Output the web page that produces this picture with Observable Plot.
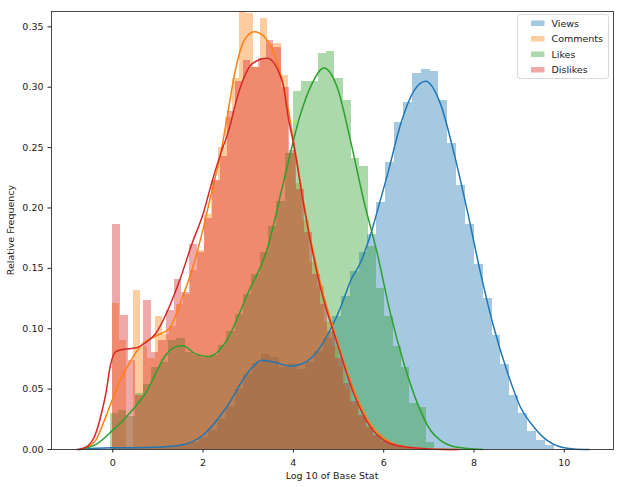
<!DOCTYPE html>
<html><head><meta charset="utf-8">
<script src="https://cdn.jsdelivr.net/npm/d3@7"></script>
<script src="https://cdn.jsdelivr.net/npm/@observablehq/plot@0.6"></script>
<style>
body{margin:0;background:#fff;}
#chart{width:624px;height:487px;}
</style></head><body><div id="chart"></div>
<script>
// ---- data ----
const seriesNames = ["Views", "Comments", "Likes", "Dislikes"];
const seriesColors = ["#1f77b4", "#ff7f0e", "#2ca02c", "#d62728"];

const xTicks = [0, 2, 4, 6, 8, 10];
const yTicks = [0, 0.05, 0.10, 0.15, 0.20, 0.25, 0.30, 0.35];

// histogram bins: first edge, bin width, bar heights (relative frequency)
const viewsBinStart = -0.04, viewsBinWidth = 0.1963;
const viewsHeights = [0.002, 0.001, 0.001, 0.001, 0.002, 0.002, 0.002, 0.003, 0.004, 0.006,
  0.010, 0.016, 0.025, 0.036, 0.050, 0.062, 0.071, 0.079, 0.076, 0.068,
  0.071, 0.066, 0.072, 0.081, 0.092, 0.110, 0.127, 0.147, 0.163, 0.178,
  0.2047, 0.238, 0.271, 0.2875, 0.3115, 0.3143, 0.313, 0.289, 0.253, 0.2185,
  0.186, 0.153, 0.125, 0.094, 0.070, 0.045, 0.030, 0.015, 0.0075, 0.003];

const commentsBinStart = 0, commentsBinWidth = 0.156;
const commentsHeights = [0.121, 0.090, 0, 0.132, 0.085, 0.075, 0.110, 0.095, 0.102, 0.120,
  0.128, 0.148, 0.165, 0.195, 0.222, 0.25, 0.275, 0.307, 0.3618, 0.361,
  0.316, 0.357, 0.335, 0.336, 0.31, 0.245, 0.22, 0.19, 0.155, 0.135,
  0.105, 0.085, 0.068, 0.05, 0.037, 0.027, 0.019, 0.012, 0.008, 0.005,
  0.003, 0.002, 0.001, 0.001, 0.0005];

const likesBinStart = -0.06, likesBinWidth = 0.1845;
const likesHeights = [0.030, 0.032, 0.027, 0.046, 0.054, 0.068, 0.072, 0.090, 0.092, 0.080,
  0.078, 0.076, 0.078, 0.086, 0.098, 0.112, 0.128, 0.145, 0.163, 0.185,
  0.205, 0.245, 0.2966, 0.305, 0.305, 0.328, 0.3297, 0.307, 0.289, 0.241,
  0.234, 0.168, 0.133, 0.11, 0.085, 0.068, 0.0378, 0.0345, 0.006];

const dislikesBinStart = 0, dislikesBinWidth = 0.17;
const dislikesHeights = [0.186, 0.111, 0.074, 0.045, 0.123, 0.08, 0.09, 0.115, 0.141, 0.13,
  0.17, 0.163, 0.191, 0.2227, 0.2425, 0.28, 0.305, 0.322, 0.316, 0.324,
  0.339, 0.333, 0.30, 0.2475, 0.215, 0.18, 0.145, 0.12, 0.098, 0.075,
  0.055, 0.04, 0.028, 0.018, 0.012, 0.007, 0.004, 0.003, 0.002, 0.001, 0.0005];

// density curves
const viewsKdeX = [-0.8, -0.4, 0, 0.5, 1.0, 1.5, 2.0, 2.5, 3.0, 3.3, 3.6, 3.94, 4.2, 4.4, 4.6, 4.83, 5.05, 5.27, 5.49, 5.71, 5.9, 6.08, 6.38, 6.67, 6.93, 7.26, 7.56, 7.85, 8.15, 8.44, 8.74, 9.03, 9.33, 9.62, 9.92, 10.2, 10.55];
const viewsKdeY = [0, 0.001, 0.0015, 0.0015, 0.002, 0.0035, 0.012, 0.034, 0.064, 0.074, 0.072, 0.069, 0.071, 0.076, 0.085, 0.1, 0.118, 0.14, 0.155, 0.178, 0.203, 0.227, 0.27, 0.297, 0.305, 0.286, 0.245, 0.198, 0.1455, 0.101, 0.064, 0.035, 0.0185, 0.0075, 0.002, 0.0005, 0];

const commentsKdeX = [-0.75, -0.55, -0.38, -0.155, 0.04, 0.2, 0.36, 0.66, 0.95, 1.25, 1.5, 1.75, 1.95, 2.2, 2.39, 2.5, 2.72, 2.9, 3.13, 3.35, 3.6, 3.83, 4.05, 4.3, 4.6, 4.97, 5.34, 5.71, 6.08, 6.5, 7.0, 7.7];
const commentsKdeY = [0, 0.002, 0.0075, 0.027, 0.046, 0.06, 0.071, 0.0875, 0.094, 0.1, 0.122, 0.148, 0.175, 0.215, 0.245, 0.268, 0.315, 0.338, 0.346, 0.342, 0.325, 0.293, 0.245, 0.19, 0.138, 0.09, 0.049, 0.021, 0.0075, 0.002, 0.0005, 0];

const likesKdeX = [-0.7, -0.38, 0, 0.25, 0.51, 0.75, 0.95, 1.15, 1.39, 1.55, 1.84, 2.13, 2.5, 3.0, 3.42, 3.79, 4.16, 4.4, 4.68, 4.97, 5.27, 5.56, 5.86, 6.15, 6.45, 6.75, 7.04, 7.26, 7.6, 8.2];
const likesKdeY = [0, 0.004, 0.016, 0.025, 0.036, 0.048, 0.063, 0.077, 0.085, 0.086, 0.079, 0.077, 0.089, 0.13, 0.166, 0.2227, 0.278, 0.302, 0.316, 0.30, 0.255, 0.206, 0.162, 0.1125, 0.071, 0.038, 0.0157, 0.0075, 0.002, 0];

const dislikesKdeX = [-0.75, -0.55, -0.38, -0.25, -0.155, -0.05, 0.066, 0.25, 0.5, 0.75, 0.95, 1.25, 1.5, 1.75, 2.0, 2.2, 2.39, 2.55, 2.8, 3.09, 3.42, 3.76, 3.9, 4.01, 4.24, 4.6, 4.97, 5.34, 5.71, 6.08, 6.5, 7.0, 7.63];
const dislikesKdeY = [0, 0.003, 0.013, 0.03, 0.046, 0.07, 0.081, 0.083, 0.084, 0.089, 0.096, 0.118, 0.142, 0.17, 0.195, 0.222, 0.245, 0.262, 0.297, 0.3195, 0.324, 0.304, 0.272, 0.252, 0.2, 0.134, 0.088, 0.046, 0.0185, 0.006, 0.002, 0.0005, 0];

// ---- build tables ----
function binsOf(series, start, width, heights) {
  return heights.map((h, i) => ({series, x1: start + i * width, x2: start + (i + 1) * width, y: h}));
}
function curveOf(series, xs, ys) {
  return xs.map((x, i) => ({series, x, y: ys[i]}));
}
const bars = {
  Views: binsOf("Views", viewsBinStart, viewsBinWidth, viewsHeights),
  Comments: binsOf("Comments", commentsBinStart, commentsBinWidth, commentsHeights),
  Likes: binsOf("Likes", likesBinStart, likesBinWidth, likesHeights),
  Dislikes: binsOf("Dislikes", dislikesBinStart, dislikesBinWidth, dislikesHeights)
};
const curves = {
  Views: curveOf("Views", viewsKdeX, viewsKdeY),
  Comments: curveOf("Comments", commentsKdeX, commentsKdeY),
  Likes: curveOf("Likes", likesKdeX, likesKdeY),
  Dislikes: curveOf("Dislikes", dislikesKdeX, dislikesKdeY)
};

const marks = [];
// bars first (patches), then all density lines on top (as matplotlib z-order does)
for (const name of seriesNames) {
  marks.push(Plot.rect(bars[name], {x1: "x1", x2: "x2", y1: 0, y2: "y", fill: "series", fillOpacity: 0.4, shapeRendering: "crispEdges"}));
}
for (const name of seriesNames) {
  marks.push(Plot.line(curves[name], {x: "x", y: "y", stroke: "series", strokeWidth: 1.5, curve: "monotone-x"}));
}
marks.push(Plot.frame({stroke: "#333", strokeWidth: 0.9}));

const chart = Plot.plot({
  width: 624, height: 487,
  marginLeft: 51, marginRight: 11, marginTop: 11, marginBottom: 38,
  x: {domain: [-1.357, 11.09], ticks: xTicks, tickSize: 3.5, tickPadding: 6, label: null},
  y: {domain: [0, 0.3627], ticks: yTicks, tickSize: 3.5, tickPadding: 4.5, tickFormat: d3.format(".2f"), label: null},
  color: {domain: seriesNames, range: seriesColors},
  style: {fontFamily: "'DejaVu Sans', sans-serif", fontSize: "9.5px", color: "#222", background: "#fff", overflow: "visible"},
  marks
});

const svg = d3.select(chart);
// axis titles
svg.append("text").attr("x", 332).attr("y", 475).attr("text-anchor", "middle").attr("dominant-baseline", "central")
  .attr("fill", "#222").attr("font-size", "9.5px").text("Log 10 of Base Stat");
svg.append("text").attr("transform", "translate(10,230) rotate(-90)").attr("text-anchor", "middle").attr("dominant-baseline", "central")
  .attr("fill", "#222").attr("font-size", "9.5px").text("Relative Frequency");

// legend
const lg = svg.append("g").attr("text-anchor", "start");
lg.append("rect").attr("x", 517.5).attr("y", 14.5).attr("width", 91).attr("height", 64).attr("rx", 2.5)
  .attr("fill", "#fff").attr("fill-opacity", 0.8).attr("stroke", "#d0d0d0").attr("stroke-width", 0.8);
seriesNames.forEach((name, i) => {
  lg.append("rect").attr("x", 531).attr("y", 20.5 + i * 15.5).attr("width", 13.5).attr("height", 5.5)
    .attr("fill", seriesColors[i]).attr("fill-opacity", 0.4);
  lg.append("text").attr("x", 551.5).attr("y", 23.2 + i * 15.5).attr("dominant-baseline", "central")
    .attr("text-anchor", "start").attr("fill", "#222").attr("font-size", "9.5px").text(name);
});

document.getElementById("chart").appendChild(chart);
</script>
</body></html>
